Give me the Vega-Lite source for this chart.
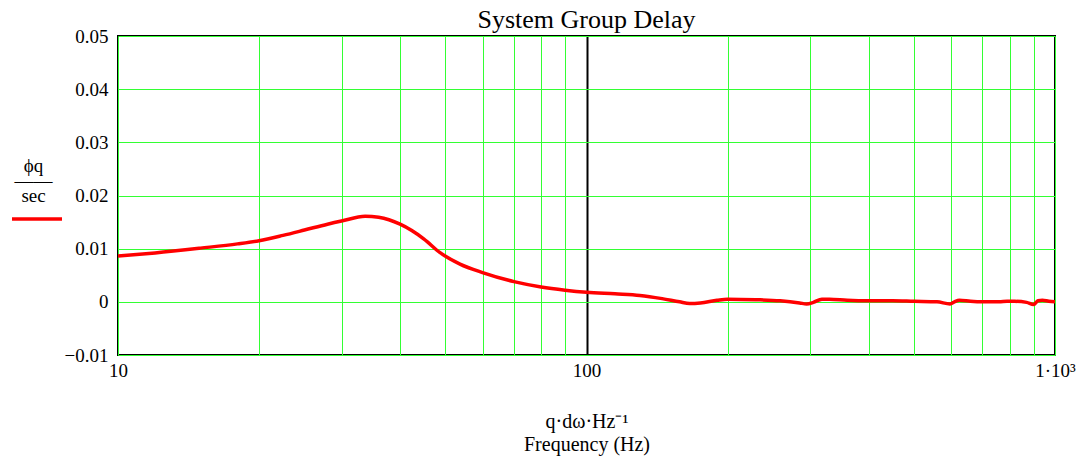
{
  "$schema": "https://vega.github.io/schema/vega-lite/v6.json",
  "autosize": {"type": "none"},
  "padding": {"left": 118, "top": 36, "right": 28, "bottom": 104},
  "width": 937,
  "height": 319,
  "background": "white",
  "config": {
    "font": "Liberation Serif",
    "view": {"stroke": "black", "strokeWidth": 2},
    "title": {"font": "Liberation Serif", "fontSize": 26, "fontWeight": "normal", "color": "black", "offset": -6}
  },
  "title": "System Group Delay",
  "data": {
    "values": [
      {"f": 10, "d": 0.0086},
      {"f": 12, "d": 0.0092},
      {"f": 15, "d": 0.0101},
      {"f": 18, "d": 0.0109},
      {"f": 20, "d": 0.0115},
      {"f": 22.5, "d": 0.0125},
      {"f": 25, "d": 0.0135},
      {"f": 28, "d": 0.0146},
      {"f": 30, "d": 0.0152},
      {"f": 33.7, "d": 0.0161},
      {"f": 36, "d": 0.0159},
      {"f": 40, "d": 0.0146},
      {"f": 45, "d": 0.0118},
      {"f": 48.6, "d": 0.0093},
      {"f": 53.7, "d": 0.0071},
      {"f": 60, "d": 0.0055},
      {"f": 70, "d": 0.0038},
      {"f": 80, "d": 0.0028},
      {"f": 90, "d": 0.0022},
      {"f": 100, "d": 0.0018},
      {"f": 115, "d": 0.0015},
      {"f": 130, "d": 0.0012},
      {"f": 145, "d": 0.0006},
      {"f": 158, "d": 0.0000},
      {"f": 166, "d": -0.0003},
      {"f": 175, "d": -0.0002},
      {"f": 190, "d": 0.0003},
      {"f": 200, "d": 0.0005},
      {"f": 230, "d": 0.0004},
      {"f": 259, "d": 0.0002},
      {"f": 285, "d": -0.0002},
      {"f": 295, "d": -0.0004},
      {"f": 305, "d": -0.0001},
      {"f": 318, "d": 0.0005},
      {"f": 330, "d": 0.0005},
      {"f": 360, "d": 0.0003},
      {"f": 400, "d": 0.0002},
      {"f": 450, "d": 0.0002},
      {"f": 500, "d": 0.0001},
      {"f": 560, "d": 0.0000},
      {"f": 597, "d": -0.0004},
      {"f": 610, "d": 0.0000},
      {"f": 625, "d": 0.0003},
      {"f": 660, "d": 0.0001},
      {"f": 700, "d": 0.0000},
      {"f": 760, "d": 0.0000},
      {"f": 790, "d": 0.0001},
      {"f": 820, "d": 0.0001},
      {"f": 870, "d": -0.0001},
      {"f": 900, "d": -0.0005},
      {"f": 920, "d": 0.0002},
      {"f": 940, "d": 0.0003},
      {"f": 970, "d": 0.0001},
      {"f": 1000, "d": 0.0000}
    ]
  },
  "mark": {"type": "line", "interpolate": "monotone", "strokeWidth": 3.5, "clip": true},
  "encoding": {
    "x": {
      "field": "f",
      "type": "quantitative",
      "scale": {"type": "log", "domain": [10, 1000], "nice": false},
      "axis": {
        "values": [10, 20, 30, 40, 50, 60, 70, 80, 90, 100, 200, 300, 400, 500, 600, 700, 800, 900, 1000],
        "labelExpr": "datum.value == 10 ? '10' : datum.value == 100 ? '100' : datum.value == 1000 ? '1·10³' : ''",
        "labelFlush": false,
        "labelOverlap": false,
        "labelFont": "Liberation Serif",
        "labelFontSize": 19,
        "labelColor": "black",
        "labelPadding": 6,
        "ticks": false,
        "domain": false,
        "grid": true,
        "gridColor": {"condition": {"test": "datum.value == 100", "value": "black"}, "value": "#33ff33"},
        "gridWidth": {"condition": {"test": "datum.value == 100", "value": 2}, "value": 1},
        "gridOpacity": 1,
        "title": ["q·dω·Hz⁻¹", "Frequency (Hz)"],
        "titleFont": "Liberation Serif",
        "titleFontSize": 20,
        "titleFontWeight": "normal",
        "titleColor": "black",
        "titleLineHeight": 23,
        "titlePadding": 31
      }
    },
    "y": {
      "field": "d",
      "type": "quantitative",
      "scale": {"domain": [-0.01, 0.05], "nice": false, "zero": false},
      "axis": {
        "values": [-0.01, 0, 0.01, 0.02, 0.03, 0.04, 0.05],
        "labelExpr": "datum.value == 0 ? '0' : format(datum.value, '.2f')",
        "labelFont": "Liberation Serif",
        "labelFontSize": 19,
        "labelColor": "black",
        "labelPadding": 10,
        "ticks": false,
        "domain": false,
        "grid": true,
        "gridColor": "#33ff33",
        "gridOpacity": 1,
        "gridWidth": 1,
        "title": ["ϕq", "——", "sec"],
        "titleFont": "Liberation Serif",
        "titleFontSize": 19,
        "titleFontWeight": "normal",
        "titleColor": "black",
        "titleAngle": 0,
        "titleAlign": "center",
        "titleBaseline": "alphabetic",
        "titleLineHeight": 15,
        "titleX": -85,
        "titleY": 135
      }
    },
    "color": {
      "datum": "ϕq",
      "type": "nominal",
      "scale": {"range": ["#ff0000"]},
      "legend": {
        "orient": "none",
        "legendX": -108,
        "legendY": 156,
        "title": null,
        "symbolType": "stroke",
        "symbolSize": 2500,
        "symbolStrokeWidth": 3.5,
        "labelExpr": "''",
        "padding": 0
      }
    }
  }
}
